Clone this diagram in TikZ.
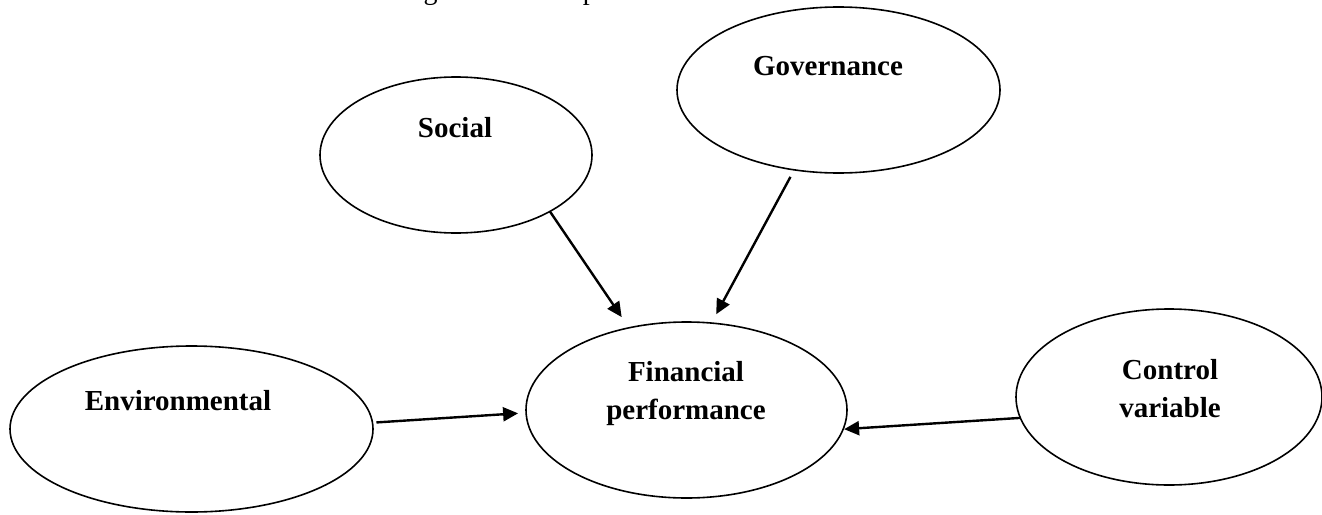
\documentclass[tikz,border=0pt]{standalone}
\usepackage{fontspec}
\setmainfont{Liberation Serif}
\usetikzlibrary{shapes.geometric,arrows.meta}
\begin{document}
\begin{tikzpicture}[x=1pt,y=-1pt,
  bubble/.style={draw, ellipse, line width=1.6pt, inner sep=0pt, outer sep=0pt},
  lbl/.style={font=\fontsize{29}{38}\selectfont\bfseries, align=center, inner sep=0pt},
  link/.style={line width=2.4pt, -{Triangle[length=15pt,width=14pt]}}]
\useasboundingbox (0,0) rectangle (1322,514);

% caption line, sitting above the frame
\node[anchor=base west, inner sep=0pt, font=\fontsize{28}{34}\selectfont] (cap) at (400,-0.5) {Figure 1: Conceptual framework};

% construct ellipses
\node[bubble, minimum width=363pt, minimum height=166pt] (env) at (191.5,429) {};
\node[bubble, minimum width=272pt, minimum height=156pt] (soc) at (456,155) {};
\node[bubble, minimum width=323pt, minimum height=166pt] (gov) at (838.5,90) {};
\node[bubble, minimum width=321pt, minimum height=176pt] (fp) at (686.5,410) {};
\node[bubble, minimum width=306pt, minimum height=176pt] (ctl) at (1169,397) {};

% labels
\node[lbl, anchor=base] (envt) at (178,410) {Environmental};
\node[lbl, anchor=base] (soct) at (455,137) {Social};
\node[lbl, anchor=base] (govt) at (828,75) {Governance};
\node[lbl] (fpt) at (686,394) {Financial\\performance};
\node[lbl] (ctlt) at (1170,389) {Control\\variable};

% relationships
\draw[link, shorten <=4pt, shorten >=8pt] (env.2) -- (fp.181);
\draw[link, shorten >=1pt] (ctl.188) -- (fp.353);
\draw[link, shorten >=13pt] (soc.-31) -- (fp.125);
\draw[link, shorten <=8pt, shorten >=10pt] (gov.241) -- (fp.74);
\end{tikzpicture}
\end{document}
